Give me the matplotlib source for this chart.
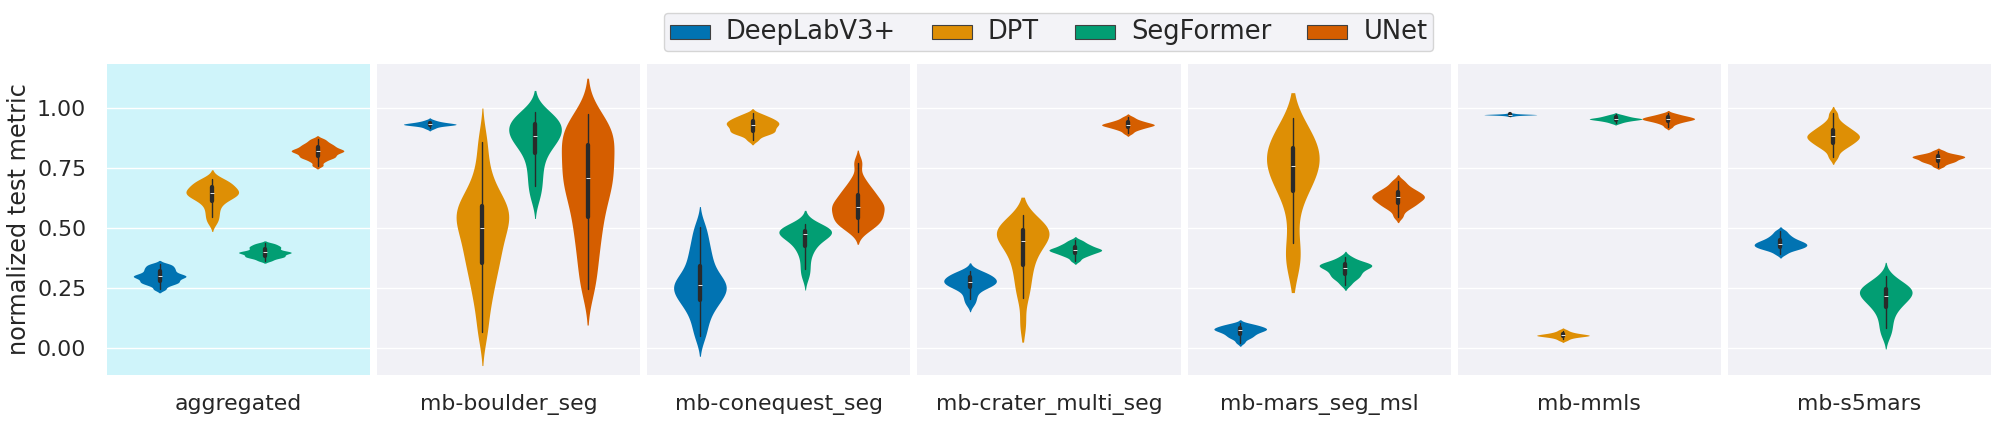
import matplotlib
matplotlib.use("Agg")
import matplotlib.pyplot as plt
import seaborn as sns
import pandas as pd
from matplotlib.patches import Patch

# ---------------- data ----------------
datasets = ["aggregated", "mb-boulder_seg", "mb-conequest_seg", "mb-crater_multi_seg",
            "mb-mars_seg_msl", "mb-mmls", "mb-s5mars"]
models = ["DeepLabV3+", "DPT", "SegFormer", "UNet"]
colors = ["#0173B2", "#DE8F05", "#029E73", "#D55E00"]
ytick_values = [0.0, 0.25, 0.5, 0.75, 1.0]
ylabel_text = "normalized test metric"

deeplab_scores = [
    [0.246, 0.260, 0.268, 0.273, 0.277, 0.282, 0.287, 0.292, 0.296, 0.299,
     0.302, 0.305, 0.309, 0.314, 0.320, 0.326, 0.332, 0.338, 0.345, 0.352],
    [0.915, 0.920, 0.924, 0.927, 0.929, 0.930, 0.931, 0.932, 0.933, 0.933,
     0.934, 0.935, 0.936, 0.937, 0.938, 0.940, 0.942, 0.944, 0.947, 0.952],
    [0.051, 0.100, 0.140, 0.170, 0.190, 0.205, 0.220, 0.235, 0.248, 0.258,
     0.267, 0.277, 0.290, 0.310, 0.335, 0.360, 0.390, 0.420, 0.460, 0.507],
    [0.185, 0.205, 0.222, 0.240, 0.250, 0.256, 0.261, 0.266, 0.270, 0.274,
     0.278, 0.282, 0.286, 0.290, 0.295, 0.300, 0.305, 0.310, 0.317, 0.324],
    [0.024, 0.038, 0.045, 0.050, 0.055, 0.060, 0.064, 0.068, 0.071, 0.074,
     0.077, 0.079, 0.081, 0.083, 0.086, 0.089, 0.092, 0.095, 0.099, 0.104],
    [0.968, 0.970, 0.971, 0.972, 0.972, 0.973, 0.973, 0.973, 0.974, 0.974,
     0.974, 0.974, 0.975, 0.975, 0.975, 0.976, 0.976, 0.977, 0.978, 0.980],
    [0.393, 0.405, 0.411, 0.415, 0.419, 0.422, 0.425, 0.428, 0.431, 0.434,
     0.437, 0.440, 0.443, 0.447, 0.451, 0.456, 0.462, 0.469, 0.478, 0.490],
]
dpt_scores = [
    [0.525, 0.548, 0.569, 0.590, 0.607, 0.619, 0.627, 0.633, 0.639, 0.644,
     0.648, 0.652, 0.657, 0.663, 0.670, 0.677, 0.684, 0.691, 0.699, 0.706],
    [0.069, 0.170, 0.235, 0.285, 0.330, 0.365, 0.395, 0.430, 0.455, 0.490,
     0.515, 0.535, 0.555, 0.570, 0.588, 0.605, 0.635, 0.680, 0.750, 0.861],
    [0.868, 0.885, 0.893, 0.898, 0.902, 0.907, 0.912, 0.917, 0.922, 0.927,
     0.931, 0.935, 0.939, 0.943, 0.947, 0.952, 0.957, 0.962, 0.969, 0.979],
    [0.100, 0.208, 0.250, 0.290, 0.325, 0.355, 0.382, 0.405, 0.425, 0.440,
     0.455, 0.465, 0.475, 0.483, 0.490, 0.497, 0.505, 0.515, 0.530, 0.556],
    [0.340, 0.380, 0.4375, 0.550, 0.630, 0.665, 0.690, 0.710, 0.730, 0.750,
     0.770, 0.785, 0.800, 0.815, 0.830, 0.850, 0.870, 0.890, 0.920, 0.958],
    [0.033, 0.039, 0.043, 0.046, 0.048, 0.050, 0.051, 0.052, 0.053, 0.054,
     0.055, 0.056, 0.057, 0.058, 0.060, 0.062, 0.064, 0.067, 0.071, 0.077],
    [0.796, 0.822, 0.836, 0.845, 0.852, 0.859, 0.865, 0.871, 0.876, 0.881,
     0.885, 0.890, 0.895, 0.901, 0.908, 0.915, 0.923, 0.933, 0.950, 0.979],
]
segformer_scores = [
    [0.365, 0.373, 0.378, 0.381, 0.384, 0.387, 0.391, 0.394, 0.397, 0.399,
     0.401, 0.403, 0.406, 0.410, 0.415, 0.419, 0.423, 0.427, 0.432, 0.438],
    [0.630, 0.675, 0.715, 0.755, 0.790, 0.820, 0.842, 0.857, 0.868, 0.879,
     0.890, 0.900, 0.910, 0.920, 0.930, 0.942, 0.952, 0.962, 0.973, 0.986],
    [0.300, 0.330, 0.364, 0.395, 0.415, 0.428, 0.442, 0.455, 0.465, 0.472,
     0.477, 0.481, 0.484, 0.487, 0.490, 0.494, 0.498, 0.503, 0.510, 0.518],
    [0.365, 0.378, 0.385, 0.390, 0.394, 0.398, 0.401, 0.404, 0.407, 0.409,
     0.411, 0.413, 0.416, 0.419, 0.423, 0.427, 0.431, 0.436, 0.443, 0.451],
    [0.264, 0.280, 0.290, 0.297, 0.303, 0.310, 0.316, 0.322, 0.328, 0.333,
     0.337, 0.341, 0.344, 0.347, 0.350, 0.353, 0.357, 0.362, 0.370, 0.382],
    [0.938, 0.943, 0.946, 0.948, 0.950, 0.952, 0.953, 0.954, 0.955, 0.956,
     0.957, 0.958, 0.959, 0.960, 0.962, 0.964, 0.966, 0.968, 0.971, 0.975],
    [0.055, 0.086, 0.115, 0.142, 0.162, 0.176, 0.188, 0.198, 0.207, 0.215,
     0.222, 0.229, 0.235, 0.241, 0.247, 0.253, 0.260, 0.268, 0.281, 0.301],
]
unet_scores = [
    [0.762, 0.778, 0.788, 0.794, 0.798, 0.803, 0.808, 0.813, 0.817, 0.820,
     0.823, 0.826, 0.829, 0.833, 0.838, 0.843, 0.848, 0.854, 0.862, 0.872],
    [0.247, 0.330, 0.400, 0.460, 0.510, 0.560, 0.600, 0.640, 0.670, 0.700,
     0.720, 0.750, 0.780, 0.810, 0.840, 0.870, 0.890, 0.910, 0.940, 0.976],
    [0.486, 0.505, 0.518, 0.528, 0.536, 0.545, 0.556, 0.567, 0.577, 0.586,
     0.593, 0.601, 0.611, 0.622, 0.635, 0.648, 0.662, 0.680, 0.710, 0.774],
    [0.896, 0.906, 0.912, 0.916, 0.919, 0.922, 0.925, 0.927, 0.929, 0.931,
     0.932, 0.934, 0.936, 0.938, 0.941, 0.944, 0.947, 0.951, 0.957, 0.965],
    [0.549, 0.572, 0.585, 0.593, 0.600, 0.606, 0.612, 0.618, 0.623, 0.627,
     0.631, 0.635, 0.640, 0.645, 0.650, 0.656, 0.663, 0.671, 0.683, 0.699],
    [0.922, 0.932, 0.938, 0.942, 0.945, 0.948, 0.950, 0.952, 0.954, 0.955,
     0.957, 0.958, 0.960, 0.962, 0.964, 0.966, 0.968, 0.971, 0.975, 0.980],
    [0.757, 0.766, 0.772, 0.776, 0.779, 0.782, 0.785, 0.788, 0.791, 0.793,
     0.795, 0.797, 0.799, 0.801, 0.803, 0.805, 0.808, 0.811, 0.816, 0.824],
]

# KDE smoothing and tail cut per violin (rows: models, columns: datasets) -- style
bw_table = [
    [0.45, 0.90, 0.65, 0.80, 0.65, 0.80, 0.60],
    [0.70, 0.65, 0.60, 0.75, 0.80, 0.70, 0.60],
    [0.45, 0.80, 0.85, 0.60, 0.65, 0.70, 0.80],
    [0.45, 0.65, 0.65, 0.65, 0.60, 0.70, 0.55],
]
cut_table = [
    [2, 2, 2, 2, 2, 2, 2],
    [2, 2, 2, 1.5, 1.4, 2, 2],
    [2, 2, 2, 2, 2, 2, 2],
    [2, 2, 2, 2, 2, 2, 2],
]

# ---------------- build long table ----------------
score_lists = [deeplab_scores, dpt_scores, segformer_scores, unet_scores]
rows = []
for model, per_ds in zip(models, score_lists):
    for ds, vals in zip(datasets, per_ds):
        for v in vals:
            rows.append({"dataset": ds, "model": model, "value": v})
df = pd.DataFrame(rows)

# ---------------- style ----------------
sns.set_theme(style="darkgrid", rc={"axes.facecolor": "#f1f1f6"})
plt.rcParams["font.family"] = ["DejaVu Sans"]

fig, axes = plt.subplots(1, 7, figsize=(20, 4.23), dpi=100, sharey=True)
fig.subplots_adjust(left=0.0535, right=0.9955, bottom=0.1135, top=0.8487, wspace=0.0266)

for i, (ax, ds) in enumerate(zip(axes, datasets)):
    for j, model in enumerate(models):
        sub = df[(df["dataset"] == ds) & (df["model"] == model)]
        sns.violinplot(data=sub, x="dataset", y="value", hue="model", hue_order=models,
                       palette=colors, ax=ax, density_norm="width", inner="box",
                       dodge=True, bw_adjust=bw_table[j][i], cut=cut_table[j][i],
                       saturation=1, linewidth=0,
                       inner_kws=dict(box_width=3.1, whis_width=1.0, color="#2a2a2a"),
                       legend=False)
    ax.set_xlabel("")
    ax.set_ylabel("")
    ax.set_xlim(-0.5, 0.5)
    ax.set_ylim(-0.111, 1.185)
    ax.set_yticks(ytick_values)
    ax.set_yticklabels([f"{t:.2f}" for t in ytick_values])
    ax.grid(axis="x", visible=False)
    ax.tick_params(axis="x", labelsize=15.8, pad=8)
    ax.tick_params(axis="y", labelsize=15.8, pad=9)
    for s in ax.spines.values():
        s.set_visible(False)

axes[0].set_facecolor("#cff4fa")
axes[0].set_ylabel(ylabel_text, fontsize=17.3, labelpad=4)

handles = [Patch(facecolor=c, edgecolor="#404040", linewidth=0.8, label=m)
           for m, c in zip(models, colors)]
leg = fig.legend(handles=handles, loc="upper center", bbox_to_anchor=(0.5243, 0.969),
                 ncol=4, fontsize=14.4, frameon=True, borderpad=0.3, columnspacing=1.8,
                 borderaxespad=0)
for t in leg.get_texts():
    t.set_fontsize(18.5)

fig.savefig("out.png", dpi=100)
